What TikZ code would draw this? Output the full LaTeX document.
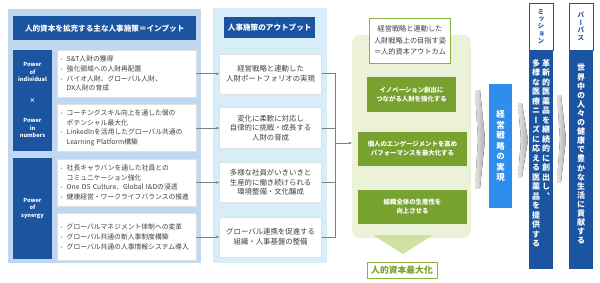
\documentclass[tikz,border=0pt]{standalone}
\usepackage{fontspec}
\setmainfont{Noto Sans CJK JP}
\newfontfamily\tatefont[RawFeature=+vert]{Noto Sans CJK JP}
\usepackage{tikz}
\usetikzlibrary{arrows.meta,positioning}
\usepackage{xcolor}
\definecolor{inbg}{HTML}{BFD8EF}
\definecolor{outbg}{HTML}{D7EDFA}
\definecolor{navy}{HTML}{1B55A1}
\definecolor{skyblue}{HTML}{2F8DEE}
\definecolor{leaf}{HTML}{78A22F}
\definecolor{leafbg}{HTML}{EBF2D8}
\definecolor{leafmid}{HTML}{CFE0A2}
\definecolor{leafline}{HTML}{8AB33F}
\definecolor{txt}{HTML}{404040}
\definecolor{dotcol}{HTML}{8EA9C8}
% vertical (tategaki) stack of characters
\makeatletter
\def\tate@end{\tate@end}
\def\tate@loop#1{\ifx\tate@end#1\else\hbox to 1em{\hss#1\hss}\expandafter\tate@loop\fi}
\newcommand\tate[2][1.1em]{\vtop{\tatefont\baselineskip=#1\lineskiplimit=-\maxdimen\tate@loop#2\tate@end}}
\makeatother
\newcommand\itm{\makebox[6pt][l]{\textcolor{dotcol}{\fontsize{6}{6}\selectfont •}}}
\newcommand\nitm{\hspace*{6pt}}
\tikzset{
  panel/.style={anchor=north west, inner sep=0pt, outer sep=0pt},
  titlebar/.style={fill=navy, text=white, anchor=north west, inner sep=0pt, font=\fontsize{7.6}{9}\selectfont\bfseries},
  pwrcol/.style={fill=navy, anchor=north west, minimum width=39pt, inner sep=0pt},
  pwrlabel/.style={text=white, align=center, inner sep=0pt, font=\fontsize{5.6}{7.2}\selectfont\bfseries},
  inbox/.style={draw=black!12, fill=white, anchor=north west, minimum height=47pt, text width=132pt, inner xsep=3.5pt, align=left, text=txt, font=\fontsize{6.8}{9.6}\selectfont},
  outbox/.style={draw=black!12, fill=white, minimum width=102pt, minimum height=40pt, inner sep=0pt, align=center, text=txt, font=\fontsize{7.4}{9.4}\selectfont},
  goaltitle/.style={draw=leafline, line width=0.8pt, fill=white, minimum width=81pt, minimum height=45pt, inner sep=0pt, align=center, text=txt, font=\fontsize{7.2}{11.6}\selectfont},
  goalbox/.style={fill=leaf, text=white, minimum height=34pt, inner sep=0pt, align=center, font=\fontsize{6.4}{9.6}\selectfont\bfseries},
  maxbox/.style={draw=leafline, line width=1pt, fill=white, minimum width=70pt, minimum height=16pt, inner sep=0pt, text=leaf, font=\fontsize{8.8}{10}\selectfont\bfseries},
  stratbox/.style={fill=skyblue, text=white, minimum width=23pt, minimum height=124pt, inner sep=0pt, font=\fontsize{8.5}{10}\selectfont\bfseries},
  colhead/.style={draw=navy, line width=0.6pt, fill=white, text=navy, minimum width=24pt, minimum height=47pt, inner sep=0pt, font=\fontsize{6.6}{7}\selectfont\bfseries},
  colbody/.style={fill=navy, anchor=north, minimum width=24pt, minimum height=219pt, inner sep=0pt},
  vtext/.style={anchor=north, text=white, inner sep=0pt, font=\fontsize{8}{9}\selectfont\bfseries},
  chev/.style={left color=black!10, right color=black!32, draw=none},
  thinline/.style={draw=black!50, line width=0.5pt},
  thinarrow/.style={-{Latex[length=3pt,width=2.6pt]}, draw=black!50, line width=0.5pt}
}

\begin{document}
\begin{tikzpicture}[x=1pt,y=-1pt]
\useasboundingbox (0,0) rectangle (600,282);
\fill[white] (0,0) rectangle (600,282);

% inputs
\node[panel, fill=inbg, minimum width=193pt, minimum height=254pt] (inpanel) at (8,9) {};
\node[titlebar, minimum width=183pt, minimum height=24pt] (intitle) at (13,16) {人的資本を拡充する主な人事施策＝インプット};
\node[pwrcol, minimum height=101pt] (pwr1) at (13,50) {};
\node[pwrcol, minimum height=101pt] (pwr2) at (13,158) {};
\node[pwrlabel] (lblind) at (32.5,72) {Power\\of\\individual};
\node[pwrlabel] (lbltimes) at (32.5,100) {×};
\node[pwrlabel] (lblnum) at (32.5,128) {Power\\in\\numbers};
\node[pwrlabel] (lblsyn) at (32.5,208.5) {Power\\of\\synergy};

\node[inbox] (in1) at (57,50) {\itm S\&T人財の獲得\\\itm 強化領域への人財再配置\\\itm バイオ人財、グローバル人財、\\\nitm DX人財の育成};
\node[inbox, below=7pt of in1] (in2) {\itm コーチングスキル向上を通した個の\\\nitm ポテンシャル最大化\\\itm LinkedInを活用したグローバル共通の\\\nitm Learning Platform構築};
\node[inbox, below=7pt of in2] (in3) {\itm 社長キャラバンを通した社員との\\\nitm コミュニケーション強化\\\itm One DS Culture、Global I\&Dの浸透\\\itm 健康経営・ワークライフバランスの推進};
\node[inbox, below=7pt of in3] (in4) {\itm グローバルマネジメント体制への変革\\\itm グローバル共通の新人事制度構築\\\itm グローバル共通の人事情報システム導入};

% outputs
\node[panel, fill=outbg, minimum width=114pt, minimum height=255pt] (outpanel) at (213,8) {};
\node[titlebar, minimum width=91pt, minimum height=21pt] (outtitle) at (224,17) {人事施策のアウトプット};
\node[outbox, right=23pt of in1] (out1) {経営戦略と連動した\\人財ポートフォリオの実現};
\node[outbox, right=23pt of in2, minimum height=41pt] (out2) {変化に柔軟に対応し\\自律的に挑戦・成長する\\人財の育成};
\node[outbox, right=23pt of in3] (out3) {多様な社員がいきいきと\\生産的に働き続けられる\\環境整備・文化醸成};
\node[outbox, right=23pt of in4] (out4) {グローバル連携を促進する\\組織・人事基盤の整備};

\draw[thinarrow] (in1) -- (out1);
\draw[thinarrow] (in2) -- (out2);
\draw[thinarrow] (in3) -- (out3);
\draw[thinarrow] (in4) -- (out4);

% outcomes
\node[panel, fill=leafbg, rounded corners=8pt, minimum width=119pt, minimum height=203pt] (goalpanel) at (352,35) {};
\fill[leafmid] (373,235) -- (433,235) -- (403,254) -- cycle;
\node[goaltitle] (goaltop) at (410,40.5) {経営戦略と連動した\\人財戦略上の目指す姿\\＝人的資本アウトカム};
\node[goalbox, minimum width=89pt, minimum height=35pt] (goal1) at (411.5,94.5) {イノベーション創出に\\つながる人財を強化する};
\node[goalbox, minimum width=109pt] (goal2) at (412.5,148.5) {個人のエンゲージメントを高め\\パフォーマンスを最大化する};
\node[goalbox, minimum width=109pt] (goal3) at (412.5,206.5) {組織全体の生産性を\\向上させる};
\node[maxbox] (maxcap) at (402,270) {人的資本最大化};

\coordinate (bus) at (335,143);
\draw[thinline] (out1.east) -- (out1.east -| bus) -- (out4.east -| bus) -- (out4.east);
\draw[thinline] (out2.east) -- (out2.east -| bus);
\draw[thinline] (out3.east) -- (out3.east -| bus);
\draw[thinarrow] (bus) -- (bus -| goalpanel.west);

% strategy, mission, purpose
\fill[chev] (475,90) -- (480,90) -- (485,139) -- (480,188) -- (475,188) -- (478,139) -- cycle;
\node[stratbox] (strat) at (500.5,146) {\tate[10.5pt]{経営戦略の実現}};
\fill[chev] (518,103) -- (522,103) -- (528,140) -- (522,177) -- (518,177) -- (521,140) -- cycle;
\node[colhead] (mishead) at (541,26.5) {\tate[7.4pt]{ミッション}};
\node[colbody] (misbody) at (541,50) {};
\node[vtext] (mistext) at (541,59) {\tate[9.5pt]{多様な医療ニーズに応える医薬品を提供する}\hspace{2pt}\tate[9.5pt]{革新的医薬品を継続的に創出し、}};
\fill[chev] (557,95) -- (561,95) -- (566,139) -- (561,182) -- (557,182) -- (560,139) -- cycle;
\node[colhead] (purhead) at (581,26.5) {\tate[7.6pt]{パーパス}};
\node[colbody] (purbody) at (581,50) {};
\node[vtext] (purtext) at (581,64) {\tate[9.1pt]{世界中の人々の健康で豊かな生活に貢献する}};
\end{tikzpicture}
\end{document}
